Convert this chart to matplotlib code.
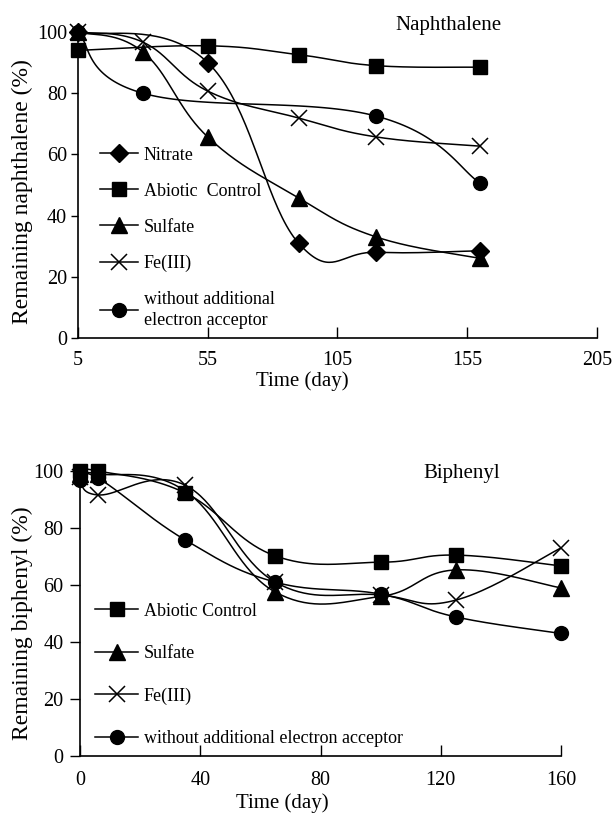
import numpy as np
import matplotlib.pyplot as plt
from matplotlib.lines import Line2D

plt.rcParams['font.family'] = ['Liberation Serif', 'DejaVu Serif']

# Naphthalene data
nap_nitrate_x = [5, 55, 90, 120, 160]
nap_nitrate_y = [100, 90, 31, 28, 28.5]
nap_abiotic_x = [5, 55, 90, 120, 160]
nap_abiotic_y = [94, 95.5, 92.6, 89, 88.5]
nap_sulfate_x = [5, 30, 55, 90, 120, 160]
nap_sulfate_y = [100, 93.5, 65.7, 45.8, 33, 26]
nap_fe_x = [5, 30, 55, 90, 120, 160]
nap_fe_y = [100, 96.7, 80.7, 71.9, 65.7, 62.7]
nap_none_x = [5, 30, 120, 160]
nap_none_y = [100, 80, 72.5, 50.6]

# Biphenyl data
bip_x = [0, 6, 35, 65, 100, 125, 160]
bip_abiotic_y = [100, 100, 92.3, 70.2, 68, 70.5, 66.7]
bip_sulfate_y = [99, 99, 93, 57.5, 56, 65.3, 59]
bip_fe_y = [98, 91.6, 95, 61, 56.5, 54.7, 73]
bip_none_y = [96.8, 97.5, 75.8, 61, 56.8, 48.8, 43]


def smooth(x, y, n=40, k=0.2):
    # Catmull-Rom style bezier, similar to a spreadsheet "smoothed line"
    p = np.column_stack([x, y]).astype(float)
    m = len(p)
    t = np.zeros_like(p)
    for i in range(m):
        a = p[max(i - 1, 0)]
        b = p[min(i + 1, m - 1)]
        t[i] = (b - a) * k
    s = np.linspace(0, 1, n)[:, None]
    out = []
    for i in range(m - 1):
        c0, c1, c2, c3 = p[i], p[i] + t[i], p[i + 1] - t[i + 1], p[i + 1]
        out.append((1 - s)**3 * c0 + 3 * (1 - s)**2 * s * c1
                   + 3 * (1 - s) * s**2 * c2 + s**3 * c3)
    pts = np.vstack(out)
    return pts[:, 0], pts[:, 1]


styles = {
    'Nitrate': dict(marker='D', ms=9),
    'Abiotic': dict(marker='s', ms=10),
    'Sulfate': dict(marker='^', ms=11),
    'Fe(III)': dict(marker='x', ms=12, mew=1.1),
    'without': dict(marker='o', ms=10),
}


def draw(ax, x, y, key):
    sx, sy = smooth(x, y)
    ax.plot(sx, sy, color='black', lw=1.1, clip_on=False, zorder=2)
    ax.plot(x, y, ls='none', color='black', clip_on=False, zorder=3, **styles[key])


def handle(key):
    return Line2D([], [], color='black', lw=1.1, **styles[key])


fig = plt.figure(figsize=(6.13, 8.19), dpi=100)

# ---- Naphthalene ----
ax1 = fig.add_axes([0.1272, 0.5873, 0.8467, 0.3736])
draw(ax1, nap_nitrate_x, nap_nitrate_y, 'Nitrate')
draw(ax1, nap_abiotic_x, nap_abiotic_y, 'Abiotic')
draw(ax1, nap_sulfate_x, nap_sulfate_y, 'Sulfate')
draw(ax1, nap_fe_x, nap_fe_y, 'Fe(III)')
draw(ax1, nap_none_x, nap_none_y, 'without')
ax1.set_xlim(5, 205)
ax1.set_ylim(0, 100)
ax1.set_xticks([5, 55, 105, 155, 205])
ax1.set_yticks([0, 20, 40, 60, 80, 100])
ax1.text(0.713, 1.02, 'Naphthalene', transform=ax1.transAxes, ha='center', va='center', fontsize=15)
ax1.set_xlabel('Time (day)', fontsize=15)
ax1.xaxis.set_label_coords(0.432, -0.11)
ax1.set_ylabel('Remaining naphthalene (%)', fontsize=17)
ax1.yaxis.set_label_coords(-0.087, 0.477)
ax1.tick_params(axis='x', direction='in', length=8, width=1, pad=9, labelsize=14.5)
ax1.tick_params(axis='y', direction='out', length=5, width=1, pad=3, labelsize=14.5)
leg1 = ax1.legend([handle('Nitrate'), handle('Abiotic'), handle('Sulfate'), handle('Fe(III)'), handle('without')],
                  ['Nitrate', 'Abiotic  Control', 'Sulfate', 'Fe(III)', 'without additional\nelectron acceptor'],
                  loc='upper left', bbox_to_anchor=(0.043, 0.625), frameon=False, fontsize=13,
                  handlelength=2.1, handletextpad=0.3, labelspacing=1.05, borderpad=0, borderaxespad=0)
leg1.get_texts()[-1].set_linespacing(1.35)

# ---- Biphenyl ----
ax2 = fig.add_axes([0.1305, 0.0769, 0.7847, 0.348])
draw(ax2, bip_x, bip_abiotic_y, 'Abiotic')
draw(ax2, bip_x, bip_sulfate_y, 'Sulfate')
draw(ax2, bip_x, bip_fe_y, 'Fe(III)')
draw(ax2, bip_x, bip_none_y, 'without')
ax2.set_xlim(0, 160)
ax2.set_ylim(0, 100)
ax2.set_xticks([0, 40, 80, 120, 160])
ax2.set_yticks([0, 20, 40, 60, 80, 100])
ax2.text(0.794, 0.99, 'Biphenyl', transform=ax2.transAxes, ha='center', va='center', fontsize=15)
ax2.set_xlabel('Time (day)', fontsize=15)
ax2.xaxis.set_label_coords(0.42, -0.13)
ax2.set_ylabel('Remaining biphenyl (%)', fontsize=17)
ax2.yaxis.set_label_coords(-0.098, 0.467)
ax2.tick_params(axis='x', direction='in', length=8, width=1, pad=11, labelsize=14.5)
ax2.tick_params(axis='y', direction='out', length=7, width=1, pad=5, labelsize=14.5)
ax2.legend([handle('Abiotic'), handle('Sulfate'), handle('Fe(III)'), handle('without')],
           ['Abiotic Control', 'Sulfate', 'Fe(III)', 'without additional electron acceptor'],
           loc='upper left', bbox_to_anchor=(0.031, 0.538), frameon=False, fontsize=13,
           handlelength=2.4, handletextpad=0.3, labelspacing=1.4, borderpad=0, borderaxespad=0)

for ax in (ax1, ax2):
    ax.spines['top'].set_visible(False)
    ax.spines['right'].set_visible(False)
    ax.spines['left'].set_linewidth(1.2)
    ax.spines['bottom'].set_linewidth(1.2)

fig.savefig('out.png', dpi=100)
